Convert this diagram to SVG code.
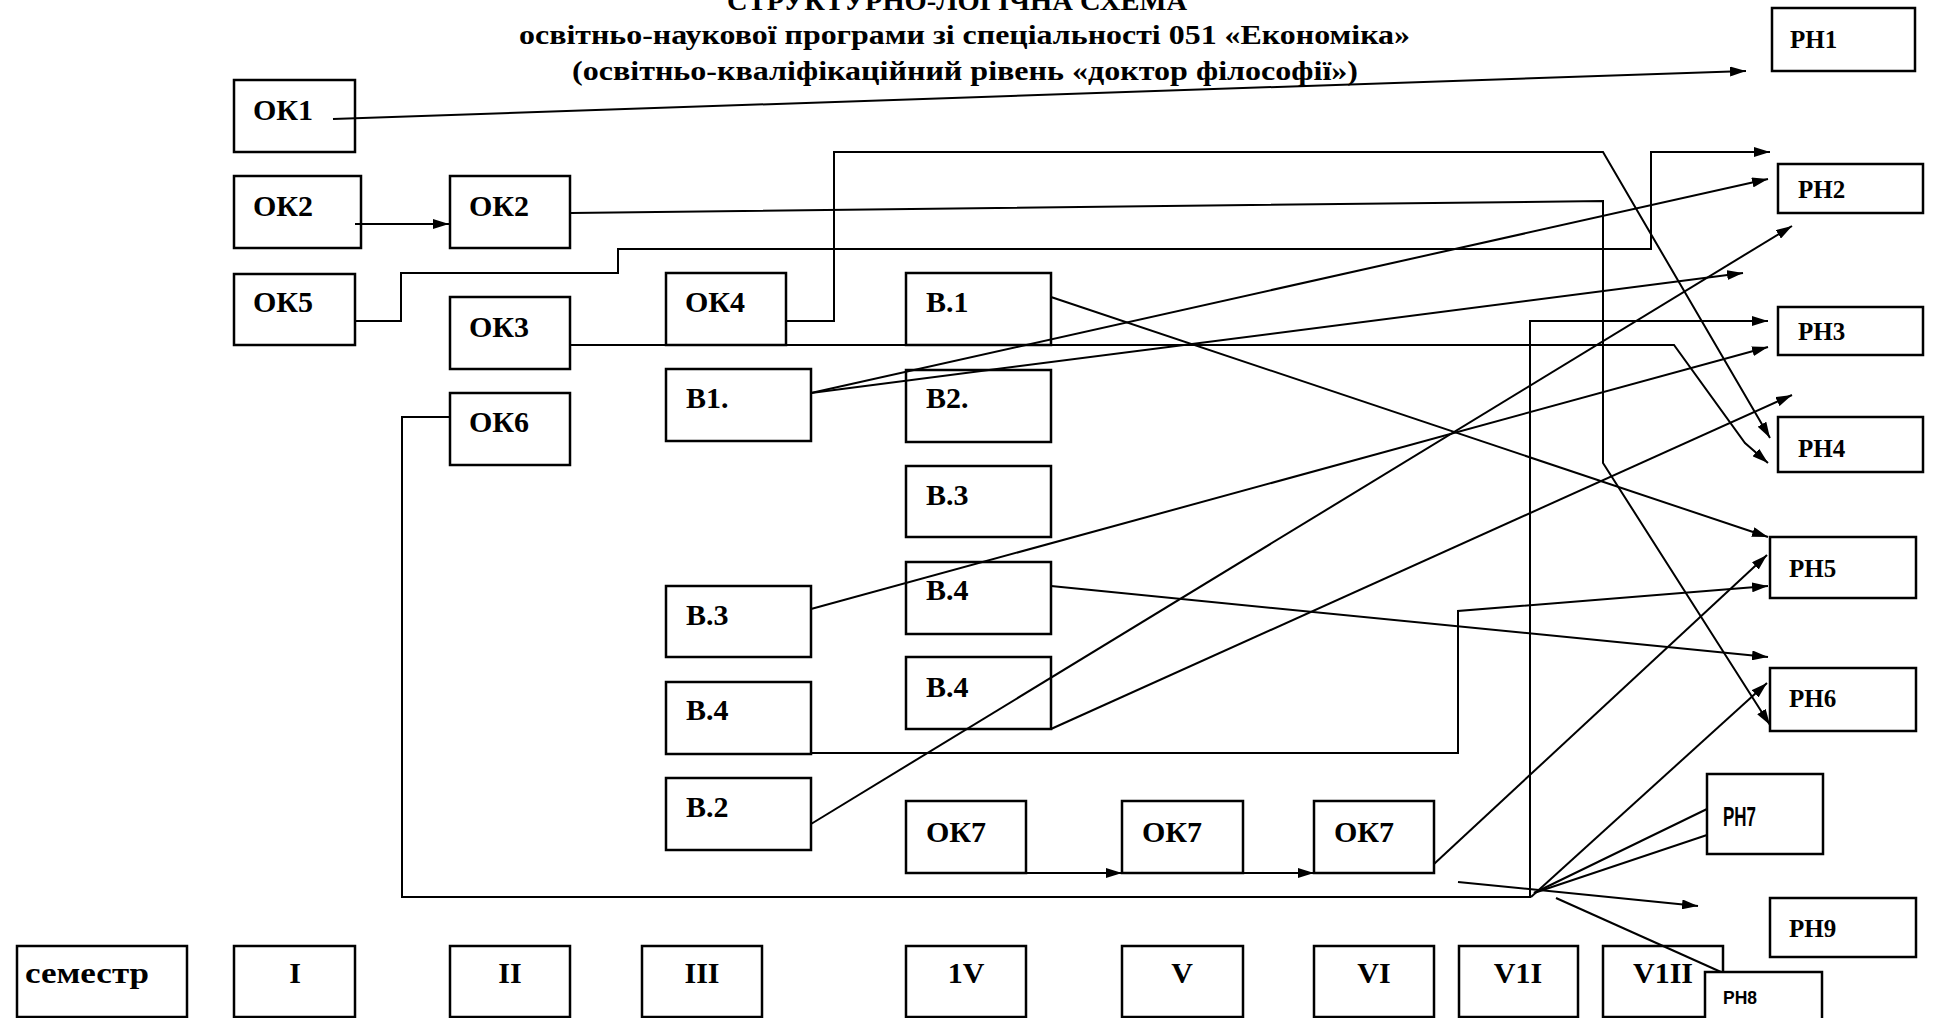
<svg xmlns="http://www.w3.org/2000/svg" width="1933" height="1018" viewBox="0 0 1933 1018">
<style>
.box{fill:#fff;stroke:#000;stroke-width:2.5}
.t{font-family:"Liberation Serif","Times New Roman",serif;font-weight:bold;font-size:30px;fill:#000}
.rh{font-family:"Liberation Serif","Times New Roman",serif;font-weight:bold;font-size:25px;fill:#000}
.nar{font-family:"Liberation Sans",Arial,sans-serif;font-weight:bold;fill:#000}
.sem{font-family:"Liberation Serif","Times New Roman",serif;font-weight:bold;font-size:30px;fill:#000;text-anchor:middle}
.title{font-family:"Liberation Serif","Times New Roman",serif;font-weight:bold;font-size:27px;fill:#000}
.c{fill:none;stroke:#000;stroke-width:2}
</style>
<defs>
<marker id="arr" markerUnits="userSpaceOnUse" markerWidth="16" markerHeight="10" refX="16" refY="5" orient="auto">
<path d="M0,0 L16,5 L0,10 z" fill="#000"/>
</marker>
</defs>
<rect width="1933" height="1018" fill="#fff"/>

<g id="title">
<text class="title" x="727" y="10" textLength="460" lengthAdjust="spacingAndGlyphs">СТРУКТУРНО-ЛОГІЧНА СХЕМА</text>
<text class="title" x="519" y="44" textLength="891" lengthAdjust="spacingAndGlyphs">освітньо-наукової програми зі спеціальності 051 «Економіка»</text>
<text class="title" x="572" y="80" textLength="786" lengthAdjust="spacingAndGlyphs">(освітньо-кваліфікаційний рівень «доктор філософії»)</text>
</g>

<g id="OK1"><rect class="box" x="234" y="80" width="121" height="72"/><text class="t" x="253" y="120">ОК1</text></g>
<g id="OK2a"><rect class="box" x="234" y="176" width="127" height="72"/><text class="t" x="253" y="216">ОК2</text></g>
<g id="OK5"><rect class="box" x="234" y="274" width="121" height="71"/><text class="t" x="253" y="312">ОК5</text></g>
<g id="OK2b"><rect class="box" x="450" y="176" width="120" height="72"/><text class="t" x="469" y="216">ОК2</text></g>
<g id="OK3"><rect class="box" x="450" y="297" width="120" height="72"/><text class="t" x="469" y="337">ОК3</text></g>
<g id="OK6"><rect class="box" x="450" y="393" width="120" height="72"/><text class="t" x="469" y="432">ОК6</text></g>
<g id="OK4"><rect class="box" x="666" y="273" width="120" height="72"/><text class="t" x="685" y="312">ОК4</text></g>
<g id="B1dot"><rect class="box" x="666" y="369" width="145" height="72"/><text class="t" x="686" y="408">В1.</text></g>
<g id="B3L"><rect class="box" x="666" y="586" width="145" height="71"/><text class="t" x="686" y="625">В.3</text></g>
<g id="B4L"><rect class="box" x="666" y="682" width="145" height="72"/><text class="t" x="686" y="720">В.4</text></g>
<g id="B2L"><rect class="box" x="666" y="778" width="145" height="72"/><text class="t" x="686" y="817">В.2</text></g>
<g id="B1R"><rect class="box" x="906" y="273" width="145" height="72"/><text class="t" x="926" y="312">В.1</text></g>
<g id="B2R"><rect class="box" x="906" y="370" width="145" height="72"/><text class="t" x="926" y="408">В2.</text></g>
<g id="B3R"><rect class="box" x="906" y="466" width="145" height="71"/><text class="t" x="926" y="505">В.3</text></g>
<g id="B4R1"><rect class="box" x="906" y="562" width="145" height="72"/><text class="t" x="926" y="600">В.4</text></g>
<g id="B4R2"><rect class="box" x="906" y="657" width="145" height="72"/><text class="t" x="926" y="697">В.4</text></g>
<g id="OK7a"><rect class="box" x="906" y="801" width="120" height="72"/><text class="t" x="926" y="842">ОК7</text></g>
<g id="OK7b"><rect class="box" x="1122" y="801" width="121" height="72"/><text class="t" x="1142" y="842">ОК7</text></g>
<g id="OK7c"><rect class="box" x="1314" y="801" width="120" height="72"/><text class="t" x="1334" y="842">ОК7</text></g>

<g id="RH1"><rect class="box" x="1772" y="8" width="143" height="63"/><text class="rh" x="1790" y="48">РН1</text></g>
<g id="RH2"><rect class="box" x="1778" y="164" width="145" height="49"/><text class="rh" x="1798" y="198">РН2</text></g>
<g id="RH3"><rect class="box" x="1778" y="307" width="145" height="48"/><text class="rh" x="1798" y="340">РН3</text></g>
<g id="RH4"><rect class="box" x="1778" y="417" width="145" height="55"/><text class="rh" x="1798" y="457">РН4</text></g>
<g id="RH5"><rect class="box" x="1770" y="537" width="146" height="61"/><text class="rh" x="1789" y="577">РН5</text></g>
<g id="RH6"><rect class="box" x="1770" y="668" width="146" height="63"/><text class="rh" x="1789" y="707">РН6</text></g>
<g id="RH7"><rect class="box" x="1707" y="774" width="116" height="80"/><text class="nar" x="1723" y="826" font-size="28" textLength="33" lengthAdjust="spacingAndGlyphs">РН7</text></g>
<g id="RH9"><rect class="box" x="1770" y="898" width="146" height="59"/><text class="rh" x="1789" y="937">РН9</text></g>

<g id="semesters">
<rect class="box" x="17" y="946" width="170" height="71"/><text class="t" x="25" y="983" textLength="124" lengthAdjust="spacingAndGlyphs">семестр</text>
<rect class="box" x="234" y="946" width="121" height="71"/><text class="sem" x="295" y="983">І</text>
<rect class="box" x="450" y="946" width="120" height="71"/><text class="sem" x="510" y="983">ІІ</text>
<rect class="box" x="642" y="946" width="120" height="71"/><text class="sem" x="702" y="983">ІІІ</text>
<rect class="box" x="906" y="946" width="120" height="71"/><text class="sem" x="966" y="983">1V</text>
<rect class="box" x="1122" y="946" width="121" height="71"/><text class="sem" x="1182" y="983">V</text>
<rect class="box" x="1314" y="946" width="120" height="71"/><text class="sem" x="1374" y="983">VI</text>
<rect class="box" x="1459" y="946" width="119" height="71"/><text class="sem" x="1518" y="983">V1I</text>
<rect class="box" x="1603" y="946" width="120" height="71"/><text class="sem" x="1663" y="983">V1II</text>
</g>

<g id="connectors">
<path class="c" d="M333,119 L1746,71" marker-end="url(#arr)"/>
<path class="c" d="M355,224 L449,224" marker-end="url(#arr)"/>
<path class="c" d="M571,213 L1603,201 L1603,463 L1770,725" marker-end="url(#arr)"/>
<path class="c" d="M355,321 L401,321 L401,273 L618,273 L618,249 L1651,249 L1651,152 L1770,152" marker-end="url(#arr)"/>
<path class="c" d="M786,321 L834,321 L834,152 L1603,152 L1770,438" marker-end="url(#arr)"/>
<path class="c" d="M570,345 L1674,345 L1745,443 L1768,463" marker-end="url(#arr)"/>
<path class="c" d="M1051,297 L1768,537" marker-end="url(#arr)"/>
<path class="c" d="M811,393 L1768,179" marker-end="url(#arr)"/>
<path class="c" d="M811,393 L1743,273" marker-end="url(#arr)"/>
<path class="c" d="M811,609 L1768,347" marker-end="url(#arr)"/>
<path class="c" d="M811,824 L1792,226" marker-end="url(#arr)"/>
<path class="c" d="M1051,586 L1768,657" marker-end="url(#arr)"/>
<path class="c" d="M1051,729 L1792,395" marker-end="url(#arr)"/>
<path class="c" d="M811,753 L1458,753 L1458,611 L1768,586" marker-end="url(#arr)"/>
<path class="c" d="M449,417 L402,417 L402,897 L1530,897 L1530,321 L1768,321" marker-end="url(#arr)"/>
<path class="c" d="M1026,873 L1122,873" marker-end="url(#arr)"/>
<path class="c" d="M1243,873 L1314,873" marker-end="url(#arr)"/>
<path class="c" d="M1434,864 L1767,555" marker-end="url(#arr)"/>
<path class="c" d="M1531,897 L1767,683" marker-end="url(#arr)"/>
<path class="c" d="M1534,893 L1707,809"/>
<path class="c" d="M1534,893 L1707,835"/>
<path class="c" d="M1458,882 L1698,906" marker-end="url(#arr)"/>
<path class="c" d="M1556,898 L1721,972"/>
</g>

<g id="RH8"><rect class="box" x="1705" y="972" width="117" height="60"/><text class="nar" x="1723" y="1004" font-size="19" textLength="34" lengthAdjust="spacingAndGlyphs">РН8</text></g>
</svg>
